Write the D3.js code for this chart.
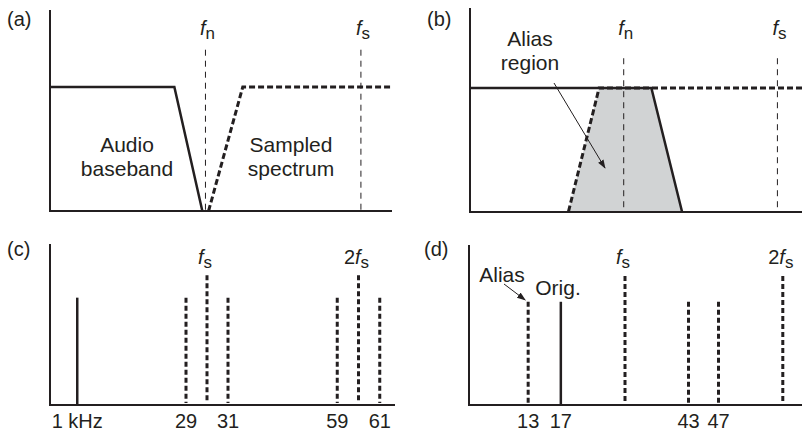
<!DOCTYPE html>
<html>
<head>
<meta charset="utf-8">
<script src="https://cdn.jsdelivr.net/npm/d3@7"></script>
<style>
  body { margin: 0; background: #fff; }
  svg text { font-family: "Liberation Sans", Arial, sans-serif; fill: #231f20; }
</style>
</head>
<body>
<svg id="chart" width="804" height="432"></svg>
<script>
// (a)/(b): normalised frequency, fn = 0.5, fs = 1
var basebandA = [[0, 1], [0.40, 1], [0.49, 0]];
var imageA = [[0.51, 0], [0.62, 1], [1.1, 1]];
var basebandB = [[0, 1], [0.59, 1], [0.69, 0]];
var imageB = [[0.32, 0], [0.42, 1], [1.08, 1]];
var aliasB = [[0.32, 0], [0.42, 1], [0.59, 1], [0.69, 0]];
var markersAB = [{f: 0.5, sub: 'n', pre: ''}, {f: 1, sub: 's', pre: ''}];

// (c)/(d): line spectra in kHz, fs = 30 kHz
var linesC = [
  {f: 1, a: 1, kind: 'orig'},
  {f: 29, a: 1, kind: 'image'},
  {f: 30, a: 1.21, kind: 'image'},
  {f: 31, a: 1, kind: 'image'},
  {f: 59, a: 1, kind: 'image'},
  {f: 60, a: 1.21, kind: 'image'},
  {f: 61, a: 1, kind: 'image'}
];
var ticksC = [[1, '1 kHz'], [29, '29'], [31, '31'], [59, '59'], [61, '61']];
var markersC = [{f: 30, pre: '', sub: 's'}, {f: 60, pre: '2', sub: 's'}];

var linesD = [
  {f: 13, a: 1, kind: 'image'},
  {f: 17, a: 1, kind: 'orig'},
  {f: 30, a: 1.25, kind: 'image'},
  {f: 43, a: 1, kind: 'image'},
  {f: 47, a: 1, kind: 'image'},
  {f: 60, a: 1.25, kind: 'image'}
];
var ticksD = [[13, '13'], [17, '17'], [43, '43'], [47, '47']];
var markersD = [{f: 30, pre: '', sub: 's'}, {f: 60, pre: '2', sub: 's'}];

var svg = d3.select('#chart');
var ink = '#231f20';

svg.append('defs').append('marker')
  .attr('id', 'arrow')
  .attr('viewBox', '0 0 10 10')
  .attr('refX', 9).attr('refY', 5)
  .attr('markerWidth', 9).attr('markerHeight', 9)
  .attr('markerUnits', 'userSpaceOnUse')
  .attr('orient', 'auto')
  .append('path').attr('d', 'M0,1.5L10,5L0,8.5Z').attr('fill', ink);

function axes(box) {
  svg.append('path')
    .attr('d', 'M' + box.x0 + ',' + box.top + 'V' + box.base + 'H' + box.x1)
    .attr('fill', 'none').attr('stroke', ink).attr('stroke-width', 2);
}

function panelLabel(x, y, t) {
  svg.append('text').attr('x', x).attr('y', y).attr('font-size', 20).text(t);
}

function note(x, y, t) {
  svg.append('text').attr('x', x).attr('y', y).attr('text-anchor', 'middle')
    .attr('font-size', 21).text(t);
}

function fLabel(x, y, m) {
  var t = svg.append('text').attr('x', x).attr('y', y)
    .attr('text-anchor', 'middle').attr('font-size', 20);
  if (m.pre) t.append('tspan').text(m.pre);
  t.append('tspan').attr('font-style', 'italic').text('f');
  t.append('tspan').attr('font-size', 17).attr('dy', 4).text(m.sub);
}

function line(x, y) {
  return d3.line().x(function(d) { return x(d[0]); }).y(function(d) { return y(d[1]); });
}

// ---------- (a) ----------
(function() {
  var box = {x0: 50, x1: 392, top: 10, base: 211};
  var x = d3.scaleLinear().domain([0, 1.1]).range([box.x0, box.x1]);
  var y = d3.scaleLinear().domain([0, 1.62]).range([box.base, box.top]);

  markersAB.forEach(function(m) {
    svg.append('line').attr('x1', x(m.f)).attr('x2', x(m.f))
      .attr('y1', y(1.3)).attr('y2', box.base)
      .attr('stroke', ink).attr('stroke-width', 1).attr('stroke-dasharray', '6,5');
    fLabel(x(m.f) + 2, 35, m);
  });

  axes(box);
  svg.append('path').datum(basebandA).attr('d', line(x, y))
    .attr('fill', 'none').attr('stroke', ink).attr('stroke-width', 2.5);
  svg.append('path').datum(imageA).attr('d', line(x, y))
    .attr('fill', 'none').attr('stroke', ink).attr('stroke-width', 3)
    .attr('stroke-dasharray', '6,3');

  note(127, 152, 'Audio');
  note(127, 176, 'baseband');
  note(291, 152, 'Sampled');
  note(291, 176, 'spectrum');
  panelLabel(7, 26, '(a)');
})();

// ---------- (b) ----------
(function() {
  var box = {x0: 470, x1: 802, top: 8, base: 212};
  var x = d3.scaleLinear().domain([0, 1.08]).range([box.x0, box.x1]);
  var y = d3.scaleLinear().domain([0, 1.645]).range([box.base, box.top]);

  svg.append('path').datum(aliasB).attr('d', line(x, y))
    .attr('fill', '#d1d3d4').attr('stroke', 'none');

  markersAB.forEach(function(m) {
    svg.append('line').attr('x1', x(m.f)).attr('x2', x(m.f))
      .attr('y1', y(1.24)).attr('y2', box.base)
      .attr('stroke', ink).attr('stroke-width', 1).attr('stroke-dasharray', '6,5');
    fLabel(x(m.f) + 2, 35, m);
  });

  axes(box);
  svg.append('path').datum(basebandB).attr('d', line(x, y))
    .attr('fill', 'none').attr('stroke', ink).attr('stroke-width', 2.5);
  svg.append('path').datum(imageB.slice().reverse()).attr('d', line(x, y))
    .attr('fill', 'none').attr('stroke', ink).attr('stroke-width', 3)
    .attr('stroke-dasharray', '6,3');

  note(530, 46, 'Alias');
  note(530, 70, 'region');
  svg.append('line').attr('x1', 554).attr('y1', 83).attr('x2', 605).attr('y2', 168)
    .attr('stroke', ink).attr('stroke-width', 1).attr('marker-end', 'url(#arrow)');
  panelLabel(427, 26, '(b)');
})();

function spectrum(box, x, y, lines, ticks, markers) {
  axes(box);
  lines.forEach(function(d) {
    var l = svg.append('line').attr('x1', x(d.f)).attr('x2', x(d.f))
      .attr('y1', y(d.a)).attr('y2', d.kind === 'orig' ? box.base : box.base - 2)
      .attr('stroke', ink);
    if (d.kind === 'orig') l.attr('stroke-width', 2.5);
    else l.attr('stroke-width', 3).attr('stroke-dasharray', '5,3');
  });
  ticks.forEach(function(t) {
    svg.append('text').attr('x', x(t[0])).attr('y', 428).attr('text-anchor', 'middle')
      .attr('font-size', 20).text(t[1]);
  });
  markers.forEach(function(m) {
    fLabel(x(m.f) - 2, 264, m);
  });
}

// ---------- (c) ----------
(function() {
  var box = {x0: 50, x1: 395, top: 244, base: 405};
  // schematic axis: the sidebands around fs and 2fs are drawn stretched
  var x = d3.scaleLinear().domain([0, 28, 32, 58, 62]).range([74, 165, 249, 316, 401]);
  var y = d3.scaleLinear().domain([0, 1.5]).range([box.base, box.top]);
  spectrum(box, x, y, linesC, ticksC, markersC);
  panelLabel(7, 256, '(c)');
})();

// ---------- (d) ----------
(function() {
  var box = {x0: 469, x1: 802, top: 245, base: 405};
  // schematic axis again, stretched around 15 kHz and 45 kHz
  var x = d3.scaleLinear().domain([0, 12, 18, 42, 48, 63]).range([469, 520, 569, 681, 726, 797]);
  var y = d3.scaleLinear().domain([0, 1.55]).range([box.base, box.top]);
  spectrum(box, x, y, linesD, ticksD, markersD);

  note(502, 282, 'Alias');
  note(558, 295, 'Orig.');
  svg.append('line').attr('x1', 504).attr('y1', 284).attr('x2', x(13) - 3).attr('y2', 300)
    .attr('stroke', ink).attr('stroke-width', 1).attr('marker-end', 'url(#arrow)');
  panelLabel(424, 256, '(d)');
})();
</script>
</body>
</html>
